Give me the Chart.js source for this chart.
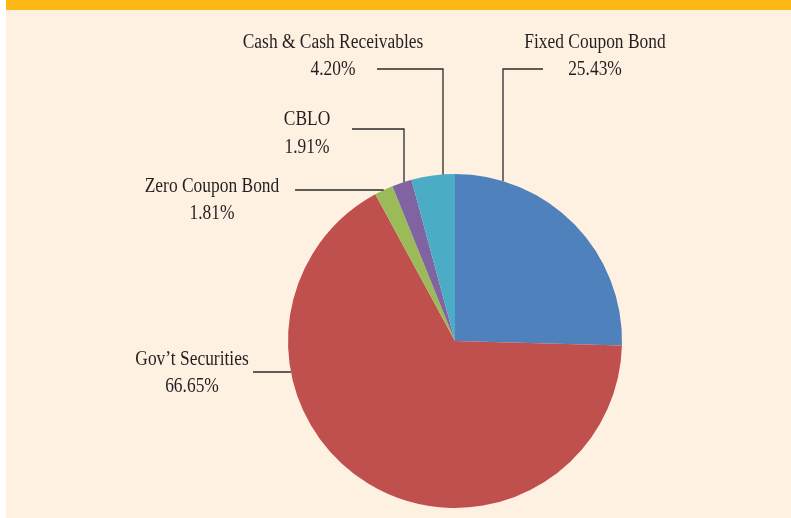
<!DOCTYPE html>
<html>
<head>
<meta charset="utf-8">
<script src="https://cdn.jsdelivr.net/npm/chart.js@4"></script>
<style>
  html, body { margin: 0; padding: 0; background: #ffffff; }
  #page {
    position: absolute; left: 6px; top: 0; width: 785px; height: 518px;
    background: #FEF1E2; border-top: 10px solid #FDB813; box-sizing: border-box;
  }
  #wrap { position: absolute; left: 0; top: 0; width: 791px; height: 518px; }
</style>
</head>
<body>
<div id="page"></div>
<div id="wrap"><canvas id="chart"></canvas></div>
<script>
// data
const categories = ['Fixed Coupon Bond', "Gov\u2019t Securities", 'Zero Coupon Bond', 'CBLO', 'Cash & Cash Receivables'];
const shares = [25.43, 66.65, 1.81, 1.91, 4.20];
const sliceColors = ['#4F81BD', '#C0504D', '#9BBB59', '#8064A2', '#4BACC6'];

// label placement: text centre x, two baselines, and leader ('v' = elbow then down to pie, 'h' = straight across)
const labelSpots = [
  {x: 595, y1: 48, y2: 75, leader: 'v', hy: 69, hx: 543, vx: 503},
  {x: 192, y1: 365, y2: 392, leader: 'h', hy: 372, hx: 253},
  {x: 212, y1: 192, y2: 219, leader: 'h', hy: 190, hx: 295},
  {x: 307, y1: 125, y2: 153, leader: 'v', hy: 129, hx: 352, vx: 404},
  {x: 333, y1: 48, y2: 75, leader: 'v', hy: 69, hx: 377, vx: 443}
];

// narrow serif look (Garamond-ish) by squeezing Times horizontally
function squeezedText(ctx, txt, x, y) {
  ctx.save();
  ctx.translate(x, y);
  ctx.scale(0.85, 1);
  ctx.fillText(txt, 0, 0);
  ctx.restore();
}

const calloutPlugin = {
  id: 'callouts',
  afterDraw(chart) {
    const ctx = chart.ctx;
    const arc = chart.getDatasetMeta(0).data[0];
    const cx = arc.x, cy = arc.y, r = arc.outerRadius;
    ctx.save();
    ctx.strokeStyle = '#2b2b2b';
    ctx.lineWidth = 1.3;
    ctx.fillStyle = '#231F20';
    ctx.font = '20.5px "Liberation Serif", "DejaVu Serif", serif';
    ctx.textAlign = 'center';
    ctx.textBaseline = 'alphabetic';
    labelSpots.forEach((s, i) => {
      ctx.beginPath();
      if (s.leader === 'v') {
        let dx = s.vx - cx;
        let ey = cy - Math.sqrt(r * r - dx * dx);
        ctx.moveTo(s.hx, s.hy);
        ctx.lineTo(s.vx, s.hy);
        ctx.lineTo(s.vx, ey);
      } else {
        let dy = s.hy - cy;
        let ex = cx - Math.sqrt(r * r - dy * dy);
        ctx.moveTo(s.hx, s.hy);
        ctx.lineTo(ex, s.hy);
      }
      ctx.stroke();
      squeezedText(ctx, categories[i], s.x, s.y1);
      squeezedText(ctx, shares[i].toFixed(2) + '%', s.x, s.y2);
    });
    ctx.restore();
  }
};

new Chart(document.getElementById('chart'), {
  type: 'pie',
  data: {
    labels: categories,
    datasets: [{
      data: shares,
      backgroundColor: sliceColors,
      borderWidth: 0
    }]
  },
  options: {
    responsive: true,
    maintainAspectRatio: false,
    animation: false,
    layout: { padding: { left: 288, right: 169, top: 174, bottom: 10 } },
    plugins: {
      legend: { display: false },
      tooltip: { enabled: false }
    }
  },
  plugins: [calloutPlugin]
});
</script>
</body>
</html>
